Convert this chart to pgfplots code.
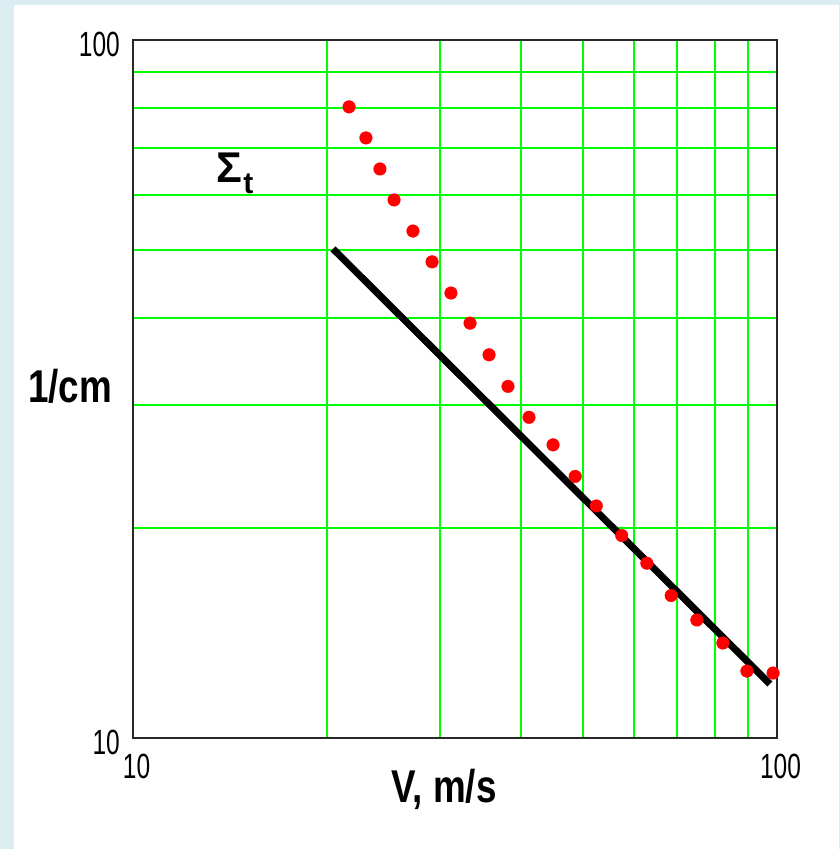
\documentclass[border=0pt]{standalone}
\usepackage{fontspec}
\setmainfont{Liberation Sans}
\newfontfamily\tickfont[FakeStretch=0.7]{Liberation Sans}
\newfontfamily\lblfont[FakeStretch=0.8]{Liberation Sans}
\usepackage{pgfplots}
\pgfplotsset{compat=1.18}

\definecolor{bgblue}{RGB}{219,237,240}
\definecolor{gridgreen}{RGB}{0,255,0}
\definecolor{frame}{RGB}{40,40,40}

% red points and fitted line
\pgfplotstableread{
x y
21.65 80.2
23.0 72.4
24.18 65.35
25.43 59.0
27.21 53.25
29.13 48.1
31.17 43.4
33.37 39.3
35.72 35.4
38.22 31.9
41.2 28.8
44.9 26.3
48.6 23.7
52.4 21.5
57.4 19.5
62.8 17.8
68.5 16.0
75.1 14.76
82.4 13.68
89.8 12.47
98.6 12.39
}\sigmadata

\begin{document}
\begin{tikzpicture}
\fill[bgblue] (-133pt,-111pt) rectangle (707pt,738pt);
\fill[white] (-119pt,-111pt) rectangle (706pt,733pt);
\begin{axis}[
    at={(0,0)}, anchor=south west,
    scale only axis,
    width=644pt, height=698pt,
    xmode=log, ymode=log,
    xmin=10, xmax=100, ymin=10, ymax=100,
    xtick={10,100}, xticklabels={10,100},
    ytick={10,100}, yticklabels={10,100},
    minor xtick={20,30,40,50,60,70,80,90},
    minor ytick={20,30,40,50,60,70,80,90},
    major tick length=0pt, minor tick length=0pt,
    minor grid style={gridgreen, line width=2pt},
    xminorgrids, yminorgrids,
    axis line style={frame, line width=2pt},
    ticklabel style={font=\tickfont\fontsize{35}{40}\selectfont, inner sep=0pt},
    xticklabel style={anchor=center, yshift=-28pt, xshift=3.5pt},
    yticklabel style={anchor=east, xshift=-13pt, yshift=-4pt},
    xlabel={V, m/s},
    xlabel style={font=\lblfont\bfseries\fontsize{46}{50}\selectfont,
        at={(axis description cs:0.483,-0.0917)}, anchor=base},
    ylabel={1/cm},
    ylabel style={rotate=-90, font=\lblfont\bfseries\fontsize{46}{50}\selectfont,
        at={(axis description cs:-0.0978,0.48)}, anchor=base},
]
\addplot[only marks, mark=*, mark size=6.3pt, red, mark options={draw=red, fill=red}]
    table[x=x, y=y] {\sigmadata};
\addplot[black, line width=7pt] coordinates {(20.45,50.2) (97.5,11.95)};
\node[font=\bfseries\fontsize{43}{46}\selectfont, inner sep=0pt] at (axis cs:14.1,65.7) {Σ};
\node[font=\bfseries\fontsize{30}{34}\selectfont, inner sep=0pt] at (axis cs:15.11,62.2) {t};
\end{axis}
\end{tikzpicture}
\end{document}
